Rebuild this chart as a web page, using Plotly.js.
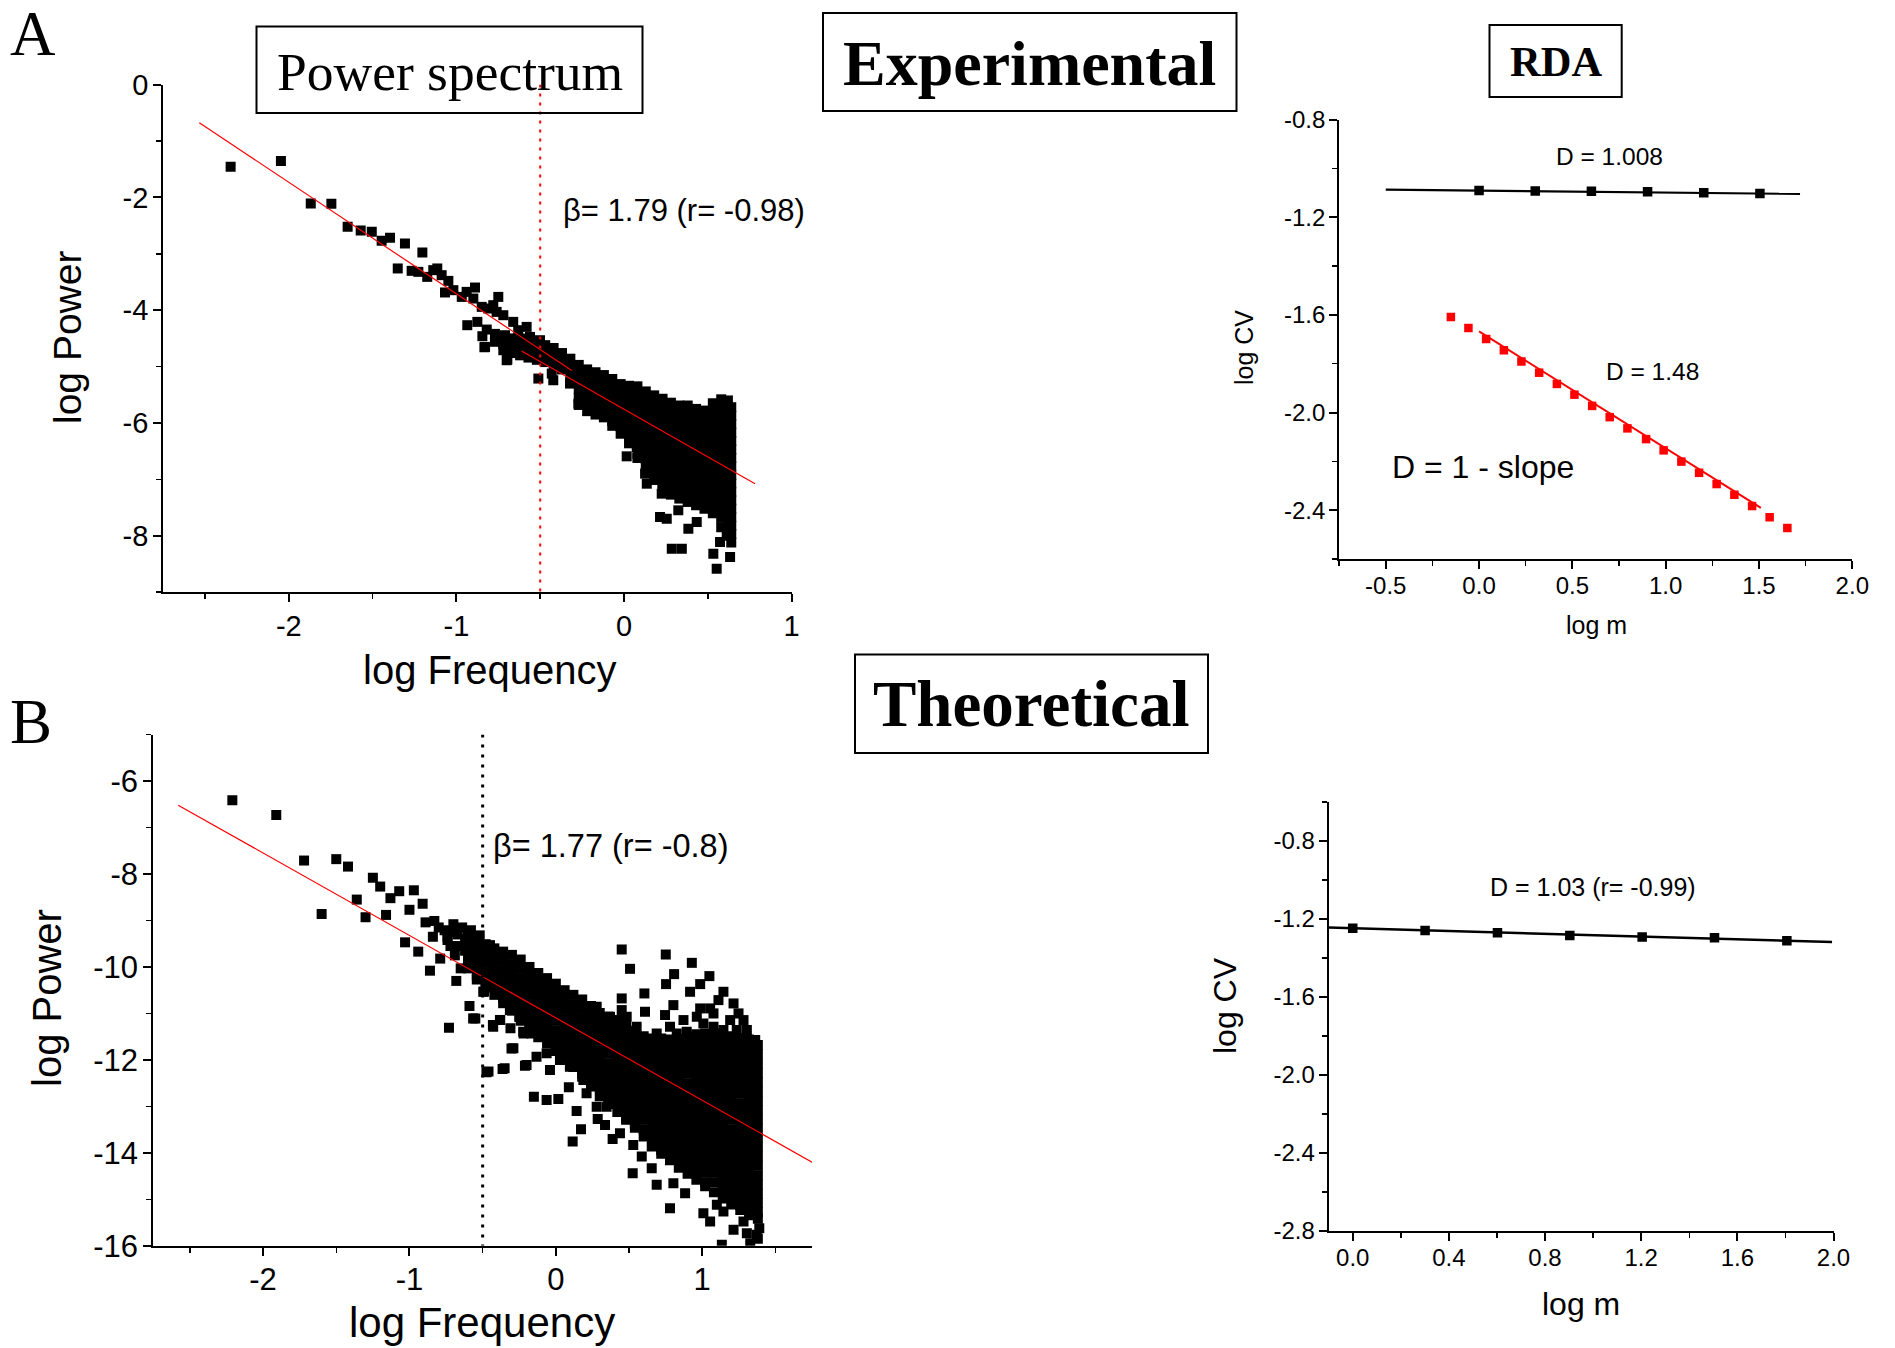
<!DOCTYPE html>
<html><head><meta charset="utf-8">
<script src="https://cdn.plot.ly/plotly-3.0.1.min.js"></script>
<style>html,body{margin:0;padding:0;background:#fff}#chart{width:1895px;height:1348px}</style>
</head><body><div id="chart"></div>
<script>
// ---------------- Panel A : experimental power spectrum ----------------
const specAx = [-2.347,-2.047,-1.869,-1.746,-1.649,-1.571,-1.505,-1.446,-1.396,-1.307,-1.203,-1.350,-1.267,-1.227,-1.174,-1.138,-1.114,-1.088,-1.048,-1.068,-1.018,-0.968,-0.939,-0.889,-0.899,-0.849,-0.810,-0.780,-0.750,-0.760,-0.720,-0.935,-0.875,-0.819,-0.845,-0.833,-0.710,-0.661,-0.680,-0.631,-0.581,-0.610,-0.561,-0.640,-0.581,-0.696,-0.501,-0.511,-0.422,-0.431,-0.452,-0.402,-0.531,
  0.553,0.633,0.533,0.285,0.345,0.215,0.255,0.384,0.324,0.225,0.136,0.126,0.016,0.116,0.076,-0.044,-0.272,-0.322,-0.700,-0.829,0.573,0.613,0.434,0.494];
const specAy = [-1.457,-1.356,-2.107,-2.113,-2.522,-2.586,-2.610,-2.770,-2.717,-2.817,-2.977,-3.260,-3.302,-3.320,-3.409,-3.290,-3.260,-3.379,-3.480,-3.686,-3.645,-3.764,-3.675,-3.598,-3.793,-3.941,-3.970,-3.911,-3.764,-4.030,-4.089,-4.266,-4.207,-4.343,-4.461,-4.657,-4.444,-4.207,-4.562,-4.355,-4.296,-4.503,-4.474,-4.740,-4.769,-4.875,-4.532,-5.212,-5.242,-5.124,-4.769,-4.829,-4.651,
  -8.584,-8.377,-8.318,-8.229,-8.229,-7.667,-7.697,-7.874,-7.549,-7.253,-7.076,-6.898,-6.591,-6.573,-6.425,-5.952,-5.656,-5.301,-4.887,-4.651,-8.111,-7.963,-7.756,-7.312,-7.430];
// dense part of panel A, read column by column
const denseAx = [-0.77,-0.72,-0.67,-0.62,-0.57,-0.52,-0.47,-0.42,-0.37,-0.32,-0.27,-0.22,-0.17,-0.12,-0.07,-0.02,0.03,0.08,0.13,0.18,0.23,0.28,0.33,0.38,0.43,0.48,0.53,0.58,0.62,0.64];
const denseAy = [
  [-4.42,-4.56],
  [-4.47,-4.60,-4.71],
  [-4.50,-4.64,-4.76],
  [-4.54,-4.68,-4.80],
  [-4.56,-4.70,-4.84],
  [-4.59,-4.73,-4.88],
  [-4.62,-4.77,-4.92],
  [-4.67,-4.82,-4.97],
  [-4.76,-4.90,-5.05],
  [-4.86,-5.01,-5.15,-5.28],
  [-4.97,-5.11,-5.25,-5.40,-5.55,-5.68],
  [-5.05,-5.20,-5.35,-5.50,-5.65,-5.79],
  [-5.10,-5.25,-5.40,-5.55,-5.70,-5.85],
  [-5.15,-5.30,-5.45,-5.60,-5.75,-5.90],
  [-5.22,-5.37,-5.52,-5.67,-5.82,-5.97,-6.05],
  [-5.31,-5.46,-5.61,-5.76,-5.91,-6.06,-6.19],
  [-5.34,-5.49,-5.64,-5.79,-5.94,-6.09,-6.24,-6.36],
  [-5.35,-5.50,-5.65,-5.80,-5.95,-6.10,-6.25,-6.40,-6.55,-6.62],
  [-5.44,-5.59,-5.74,-5.89,-6.04,-6.19,-6.34,-6.49,-6.64,-6.79,-6.88],
  [-5.51,-5.66,-5.81,-5.96,-6.11,-6.26,-6.41,-6.56,-6.71,-6.86,-7.01],
  [-5.57,-5.72,-5.87,-6.02,-6.17,-6.32,-6.47,-6.62,-6.77,-6.92,-7.07,-7.15],
  [-5.64,-5.79,-5.94,-6.09,-6.24,-6.39,-6.54,-6.69,-6.84,-6.99,-7.14,-7.27],
  [-5.69,-5.84,-5.99,-6.14,-6.29,-6.44,-6.59,-6.74,-6.89,-7.04,-7.19,-7.34],
  [-5.69,-5.84,-5.99,-6.14,-6.29,-6.44,-6.59,-6.74,-6.89,-7.04,-7.19,-7.34,-7.40],
  [-5.75,-5.90,-6.05,-6.20,-6.35,-6.50,-6.65,-6.80,-6.95,-7.10,-7.25,-7.40,-7.46],
  [-5.78,-5.93,-6.08,-6.23,-6.38,-6.53,-6.68,-6.83,-6.98,-7.13,-7.28,-7.43,-7.52],
  [-5.65,-5.80,-5.95,-6.10,-6.25,-6.40,-6.55,-6.70,-6.85,-7.00,-7.15,-7.30,-7.45,-7.60],
  [-5.58,-5.73,-5.88,-6.03,-6.18,-6.33,-6.48,-6.63,-6.78,-6.93,-7.08,-7.23,-7.38,-7.53,-7.68,-7.85],
  [-5.60,-5.75,-5.90,-6.05,-6.20,-6.35,-6.50,-6.65,-6.80,-6.95,-7.10,-7.25,-7.40,-7.55,-7.70,-7.85,-8.00],
  [-5.72,-5.87,-6.02,-6.17,-6.32,-6.47,-6.62,-6.77,-6.92,-7.07,-7.22,-7.37,-7.52,-7.67,-7.82,-7.97,-8.12]
];
const fitA1x = [-2.534,-0.312], fitA1y = [-0.676,-5.07];
const fitA2x = [-0.611,0.782], fitA2y = [-4.722,-7.076];
const cutAx = [-0.5,-0.5], cutAy = [0,-9];
const tickAx = [-2,-1,0,1], tickAxText = ['-2','-1','0','1'];
const tickAy = [0,-2,-4,-6,-8], tickAyText = ['0','-2','-4','-6','-8'];

// ---------------- RDA experimental ----------------
const rdaBlackX = [0,0.301,0.602,0.903,1.204,1.505];
const rdaBlackY = [-1.091,-1.093,-1.094,-1.096,-1.100,-1.103];
const rdaRedX = [-0.151,-0.057,0.038,0.133,0.227,0.322,0.417,0.511,0.606,0.700,0.795,0.895,0.989,1.084,1.179,1.273,1.368,1.463,1.557,1.652];
const rdaRedY = [-1.609,-1.654,-1.699,-1.745,-1.791,-1.837,-1.883,-1.927,-1.973,-2.019,-2.065,-2.109,-2.155,-2.201,-2.247,-2.293,-2.337,-2.383,-2.429,-2.473];
const rdaBlackFitX = [-0.5,1.72], rdaBlackFitY = [-1.087,-1.105];
const rdaRedFitX = [0,1.51], rdaRedFitY = [-1.668,-2.391];
const tickRx = [-0.5,0,0.5,1,1.5,2], tickRxText = ['-0.5','0.0','0.5','1.0','1.5','2.0'];
const tickRy = [-0.8,-1.2,-1.6,-2.0,-2.4], tickRyText = ['-0.8','-1.2','-1.6','-2.0','-2.4'];

// ---------------- Panel B : theoretical power spectrum ----------------
const specBx = [-2.21,-1.91,-1.72,-1.50,-1.42,-1.60,-1.36,-1.30,-1.25,-1.20,-1.16,-1.13,-1.07,-0.97,-1.00,-0.91,-1.03,-0.94,-0.86,-0.79,-0.89,-0.83,-0.84,-0.76,-0.70,-0.74,-0.67,-0.69,-0.58,-0.52,-0.65,-0.68,-0.59,-0.54,-0.59,-0.55,-0.73,-0.45,-0.49,-0.43,-0.38,-0.31,-0.29,-0.46,-0.35,-0.20,-0.33,-0.25,-0.22,
  -0.80,-0.74,-0.70,-0.62,-0.60,-0.64,-0.55,-0.62,-0.66,-0.72,
  0.450,0.751,0.507,0.929,0.808,0.753,1.049,0.986,0.917,0.986,1.054,1.145,1.111,1.214,1.248,1.282,1.305,1.362,0.605,0.609,0.450,0.450,0.803,0.746,0.780,0.872,0.894,0.826,0.963,1.008,1.077,1.145,1.191,1.236,1.077,0.689,0.552,0.484,0.370,0.279,
  -0.474,-0.364,-0.303,-0.211,-0.150,-0.063,0.017,0.089,0.142,0.172,0.115,0.286,0.336,0.388,0.438,0.529,0.655,0.587,0.525,0.689,0.780,0.655,0.803,0.883,1.008,1.054,1.134,1.214,1.305,1.373,1.328,1.145,1.100,1.282,1.39,1.38,
  -0.496,-0.565,-0.428,-0.382,-0.314,-0.246,-0.223,-0.166,-0.109,-0.132,-0.063,-0.040,0.028,0.096,0.188,0.210,0.279,0.347];
const specBy = [-6.41,-6.73,-7.71,-7.68,-7.84,-8.86,-8.55,-8.93,-8.08,-8.27,-8.88,-8.52,-8.37,-8.35,-8.77,-8.64,-9.47,-9.67,-10.08,-9.82,-9.04,-9.01,-9.35,-9.21,-9.08,-9.42,-9.30,-9.75,-9.21,-9.32,-10.03,-10.30,-9.85,-9.75,-10.84,-11.11,-11.31,-9.53,-10.53,-11.25,-11.14,-11.32,-11.75,-12.25,-12.18,-12.11,-10.71,-11.07,-11.43,
  -9.15,-9.35,-9.25,-9.40,-9.55,-9.15,-9.40,-9.65,-9.55,-9.55,
  -9.624,-9.732,-10.040,-9.911,-10.154,-10.369,-10.197,-10.369,-10.534,-10.892,-10.892,-10.534,-10.713,-10.785,-10.999,-11.143,-11.358,-11.573,-10.570,-10.964,-10.677,-10.928,-10.821,-11.035,-11.286,-11.143,-11.394,-11.430,-11.071,-11.215,-11.286,-11.358,-11.143,-11.358,-10.999,-11.430,-11.286,-11.071,-11.071,-10.856,
  -12.268,-12.196,-11.752,-12.124,-12.791,-12.862,-12.841,-12.590,-13.099,-13.493,-13.758,-13.271,-13.400,-13.700,-13.579,-13.829,-13.865,-14.080,-14.438,-14.689,-15.191,-14.331,-14.653,-14.868,-15.298,-15.477,-15.979,-15.656,-15.728,-15.764,-15.943,-15.262,-15.119,-15.477,-15.62,-15.85,
  -10.534,-11.107,-11.286,-11.143,-10.928,-11.071,-11.394,-11.430,-11.286,-11.931,-11.859,-12.218,-12.003,-12.146,-12.433,-12.719,-13.006,-13.006];
const denseBx = [-0.60,-0.54,-0.48,-0.42,-0.36,-0.30,-0.24,-0.18,-0.12,-0.06,0.00,0.06,0.12,0.18,0.24,0.30,0.36,0.42,0.48,0.54,0.60,0.66,0.72,0.78,0.84,0.90,0.96,1.02,1.08,1.14,1.20,1.26,1.32,1.38];
const denseBy = [
  [-9.23,-9.43,-9.63,-9.83,-10.03],
  [-9.38,-9.58,-9.78,-9.98,-10.18,-10.27],
  [-9.51,-9.71,-9.91,-10.11,-10.31,-10.44],
  [-9.60,-9.80,-10.00,-10.20,-10.40,-10.60],
  [-9.67,-9.87,-10.07,-10.27,-10.47,-10.67,-10.78],
  [-9.74,-9.94,-10.14,-10.34,-10.54,-10.74,-10.94],
  [-9.84,-10.04,-10.24,-10.44,-10.64,-10.84,-11.04,-11.16],
  [-10.00,-10.20,-10.40,-10.60,-10.80,-11.00,-11.20,-11.35],
  [-10.13,-10.33,-10.53,-10.73,-10.93,-11.13,-11.33,-11.51],
  [-10.24,-10.44,-10.64,-10.84,-11.04,-11.24,-11.44,-11.64],
  [-10.36,-10.56,-10.76,-10.96,-11.16,-11.36,-11.56,-11.76,-11.81],
  [-10.50,-10.70,-10.90,-11.10,-11.30,-11.50,-11.70,-11.90,-11.96],
  [-10.60,-10.80,-11.00,-11.20,-11.40,-11.60,-11.80,-12.00,-12.15],
  [-10.70,-10.90,-11.10,-11.30,-11.50,-11.70,-11.90,-12.10,-12.30,-12.36],
  [-10.84,-11.04,-11.24,-11.44,-11.64,-11.84,-12.04,-12.24,-12.44,-12.57],
  [-10.99,-11.19,-11.39,-11.59,-11.79,-11.99,-12.19,-12.39,-12.59,-12.78],
  [-11.07,-11.27,-11.47,-11.67,-11.87,-12.07,-12.27,-12.47,-12.67,-12.87,-12.95],
  [-11.14,-11.34,-11.54,-11.74,-11.94,-12.14,-12.34,-12.54,-12.74,-12.94,-13.12],
  [-11.24,-11.44,-11.64,-11.84,-12.04,-12.24,-12.44,-12.64,-12.84,-13.04,-13.24,-13.29],
  [-11.37,-11.57,-11.77,-11.97,-12.17,-12.37,-12.57,-12.77,-12.97,-13.17,-13.37,-13.46],
  [-11.49,-11.69,-11.89,-12.09,-12.29,-12.49,-12.69,-12.89,-13.09,-13.29,-13.49,-13.65],
  [-11.54,-11.74,-11.94,-12.14,-12.34,-12.54,-12.74,-12.94,-13.14,-13.34,-13.54,-13.74,-13.83],
  [-11.54,-11.74,-11.94,-12.14,-12.34,-12.54,-12.74,-12.94,-13.14,-13.34,-13.54,-13.74,-13.94,-14.02],
  [-11.56,-11.76,-11.96,-12.16,-12.36,-12.56,-12.76,-12.96,-13.16,-13.36,-13.56,-13.76,-13.96,-14.16],
  [-11.55,-11.75,-11.95,-12.15,-12.35,-12.55,-12.75,-12.95,-13.15,-13.35,-13.55,-13.75,-13.95,-14.15,-14.32],
  [-11.50,-11.70,-11.90,-12.10,-12.30,-12.50,-12.70,-12.90,-13.10,-13.30,-13.50,-13.70,-13.90,-14.10,-14.30,-14.45],
  [-11.45,-11.65,-11.85,-12.05,-12.25,-12.45,-12.65,-12.85,-13.05,-13.25,-13.45,-13.65,-13.85,-14.05,-14.25,-14.45,-14.58],
  [-11.43,-11.63,-11.83,-12.03,-12.23,-12.43,-12.63,-12.83,-13.03,-13.23,-13.43,-13.63,-13.83,-14.03,-14.23,-14.43,-14.63,-14.72],
  [-11.43,-11.63,-11.83,-12.03,-12.23,-12.43,-12.63,-12.83,-13.03,-13.23,-13.43,-13.63,-13.83,-14.03,-14.23,-14.43,-14.63,-14.85],
  [-11.44,-11.64,-11.84,-12.04,-12.24,-12.44,-12.64,-12.84,-13.04,-13.24,-13.44,-13.64,-13.84,-14.04,-14.24,-14.44,-14.64,-14.84,-14.98],
  [-11.49,-11.69,-11.89,-12.09,-12.29,-12.49,-12.69,-12.89,-13.09,-13.29,-13.49,-13.69,-13.89,-14.09,-14.29,-14.49,-14.69,-14.89,-15.09,-15.11],
  [-11.53,-11.73,-11.93,-12.13,-12.33,-12.53,-12.73,-12.93,-13.13,-13.33,-13.53,-13.73,-13.93,-14.13,-14.33,-14.53,-14.73,-14.93,-15.13,-15.23],
  [-11.56,-11.76,-11.96,-12.16,-12.36,-12.56,-12.76,-12.96,-13.16,-13.36,-13.56,-13.76,-13.96,-14.16,-14.36,-14.56,-14.76,-14.96,-15.16,-15.34],
  [-11.68,-11.88,-12.08,-12.28,-12.48,-12.68,-12.88,-13.08,-13.28,-13.48,-13.68,-13.88,-14.08,-14.28,-14.48,-14.68,-14.88,-15.08,-15.28,-15.42]
];
const fitBx = [-2.58,1.75], fitBy = [-6.52,-14.2];
const cutBx = [-0.5,-0.5], cutBy = [-5,-16];
const tickBx = [-2,-1,0,1], tickBxText = ['-2','-1','0','1'];
const tickBy = [-6,-8,-10,-12,-14,-16], tickByText = ['-6','-8','-10','-12','-14','-16'];

// ---------------- RDA theoretical ----------------
const rdaTx = [0,0.301,0.602,0.903,1.204,1.505,1.806];
const rdaTy = [-1.249,-1.260,-1.271,-1.286,-1.293,-1.297,-1.312];
const rdaTfitX = [-0.1,1.994], rdaTfitY = [-1.245,-1.319];
const tickTx = [0,0.4,0.8,1.2,1.6,2.0], tickTxText = ['0.0','0.4','0.8','1.2','1.6','2.0'];
const tickTy = [-0.8,-1.2,-1.6,-2.0,-2.4,-2.8], tickTyText = ['-0.8','-1.2','-1.6','-2.0','-2.4','-2.8'];

// ---------------- build ----------------
function flatten(xs, ys) {
  const X = [], Y = [];
  xs.forEach((x, i) => ys[i].forEach(y => { X.push(x); Y.push(y); }));
  return [X, Y];
}
const [dAx, dAy] = flatten(denseAx, denseAy);
const [dBx, dBy] = flatten(denseBx, denseBy);

const W = 1895, H = 1348;
const fx = p => p / W, fy = p => 1 - p / H;
const SANS = 'Liberation Sans, Arial, sans-serif';
const SERIF = 'Liberation Serif, Times New Roman, serif';

function sq(x, y, xa, ya, size, color) {
  return {x: x, y: y, xaxis: xa, yaxis: ya, type: 'scatter', mode: 'markers',
    marker: {symbol: 'square', size: size, color: color, line: {width: 0}}, hoverinfo: 'skip'};
}
function ln(x, y, xa, ya, color, width, dash) {
  return {x: x, y: y, xaxis: xa, yaxis: ya, type: 'scatter', mode: 'lines',
    line: {color: color, width: width, dash: dash || 'solid'}, hoverinfo: 'skip'};
}

const traces = [
  sq(specAx, specAy, 'x', 'y', 10, '#000'),
  sq(dAx, dAy, 'x', 'y', 10, '#000'),
  ln(fitA1x, fitA1y, 'x', 'y', '#ff0000', 1.2),
  ln(fitA2x, fitA2y, 'x', 'y', '#ff0000', 1.2),
  ln(cutAx, cutAy, 'x', 'y', '#ff0000', 2, '3px,6px'),

  ln(rdaBlackFitX, rdaBlackFitY, 'x2', 'y2', '#000', 2.2),
  ln(rdaRedFitX, rdaRedFitY, 'x2', 'y2', '#ff0000', 2),
  sq(rdaBlackX, rdaBlackY, 'x2', 'y2', 9.5, '#000'),
  sq(rdaRedX, rdaRedY, 'x2', 'y2', 8.5, '#ff0000'),

  sq(specBx, specBy, 'x3', 'y3', 10, '#000'),
  sq(dBx, dBy, 'x3', 'y3', 10, '#000'),
  ln(fitBx, fitBy, 'x3', 'y3', '#ff0000', 1.2),
  ln(cutBx, cutBy, 'x3', 'y3', '#000', 3, '3px,7px'),

  ln(rdaTfitX, rdaTfitY, 'x4', 'y4', '#000', 2.5),
  sq(rdaTx, rdaTy, 'x4', 'y4', 9.5, '#000')
];

function ax(domPx, isX, range, vals, text, m0, md, fs, anchor, standoff) {
  const d = isX ? [fx(domPx[0]), fx(domPx[1])] : [fy(domPx[1]), fy(domPx[0])];
  return {domain: d, range: range, anchor: anchor, showline: true, linecolor: '#000', linewidth: 2,
    mirror: false, showgrid: false, zeroline: false, ticks: 'outside', ticklen: 8, tickwidth: 2,
    tickcolor: '#000', tickmode: 'array', tickvals: vals, ticktext: text, ticklabelstandoff: standoff,
    tickfont: {family: SANS, size: fs, color: '#000'},
    minor: {ticks: 'outside', ticklen: 5, tickwidth: 1.5, tickcolor: '#000', tick0: m0, dtick: md, showgrid: false},
    fixedrange: true};
}

const layout = {
  width: W, height: H, margin: {l: 0, r: 0, t: 0, b: 0},
  paper_bgcolor: '#fff', plot_bgcolor: 'rgba(0,0,0,0)', showlegend: false, hovermode: false,
  xaxis: ax([163.1, 791.6], true, [-2.75, 1], tickAx, tickAxText, -2.5, 1, 29, 'y', -1),
  yaxis: ax([84.6, 592.2], false, [-9, 0], tickAy, tickAyText, -1, 2, 29, 'x', -1),
  xaxis2: ax([1339.1, 1852.3], true, [-0.75, 2.0], tickRx, tickRxText, -0.25, 0.5, 24, 'y2', -4),
  yaxis2: ax([119.5, 559], false, [-2.6, -0.8], tickRy, tickRyText, -1.0, 0.4, 24, 'x2', -1),
  xaxis3: ax([153.3, 812], true, [-2.75, 1.75], tickBx, tickBxText, -2.5, 1, 31, 'y3', -3),
  yaxis3: ax([734.6, 1245.8], false, [-16, -5], tickBy, tickByText, -5, 2, 31, 'x3', -1),
  xaxis4: ax([1328.7, 1833.5], true, [-0.1, 2.0], tickTx, tickTxText, 0.2, 0.4, 24, 'y4', -4),
  yaxis4: ax([801.8, 1230.8], false, [-2.8, -0.6], tickTy, tickTyText, -0.6, 0.4, 24, 'x4', -1),
  shapes: [
    [256.5, 26.6, 642.5, 113], [823, 13, 1236.5, 111], [855, 654.5, 1208, 753], [1489.5, 25, 1621.7, 97]
  ].map(b => ({type: 'rect', xref: 'paper', yref: 'paper', x0: fx(b[0]), x1: fx(b[2]), y0: fy(b[3]), y1: fy(b[1]),
    line: {color: '#000', width: 2}, fillcolor: 'rgba(0,0,0,0)'})),
  annotations: []
};

function pa(text, x, y, font, extra) {
  return Object.assign({text: text, xref: 'paper', yref: 'paper', x: fx(x), y: fy(y), xanchor: 'center', yanchor: 'middle',
    showarrow: false, font: font}, extra || {});
}
function da(text, xa, ya, x, y, size, xanchor) {
  return {text: text, xref: xa, yref: ya, x: x, y: y, xanchor: xanchor || 'center', yanchor: 'middle', showarrow: false,
    font: {family: SANS, size: size, color: '#000'}};
}
const sans = s => ({family: SANS, size: s, color: '#000'});
const serif = s => ({family: SERIF, size: s, color: '#000'});
layout.annotations.push(
  pa('A', 33, 34, serif(63)),
  pa('B', 31, 722, serif(63)),
  pa('Power spectrum', 449.5, 72, serif(53.5)),
  pa('<b>Experimental</b>', 1029.5, 63, serif(64)),
  pa('<b>Theoretical</b>', 1031.5, 704, serif(65)),
  pa('<b>RDA</b>', 1555.6, 62, serif(42.5)),
  pa('log Power', 67, 338, sans(39), {textangle: -90}),
  pa('log Frequency', 490, 670, sans(40)),
  pa('log Power', 47, 998, sans(40), {textangle: -90}),
  pa('log Frequency', 482, 1322, sans(42)),
  pa('log CV', 1244, 348, sans(25), {textangle: -90}),
  pa('log m', 1596, 625, sans(25)),
  pa('log CV', 1225, 1006, sans(32), {textangle: -90}),
  pa('log m', 1580.5, 1304, sans(32)),
  da('β= 1.79 (r= -0.98)', 'x', 'y', -0.376, -2.24, 31, 'left'),
  da('β= 1.77 (r= -0.8)', 'x3', 'y3', -0.44, -7.40, 32.5, 'left'),
  da('D = 1.008', 'x2', 'y2', 0.697, -0.953, 24.5),
  da('D = 1.48', 'x2', 'y2', 0.93, -1.833, 24.5),
  da('D = 1 - slope', 'x2', 'y2', 0.02, -2.222, 32),
  da('D = 1.03 (r= -0.99)', 'x4', 'y4', 1.0, -1.035, 25)
);

Plotly.newPlot('chart', traces, layout, {staticPlot: true, displayModeBar: false});
</script></body></html>
